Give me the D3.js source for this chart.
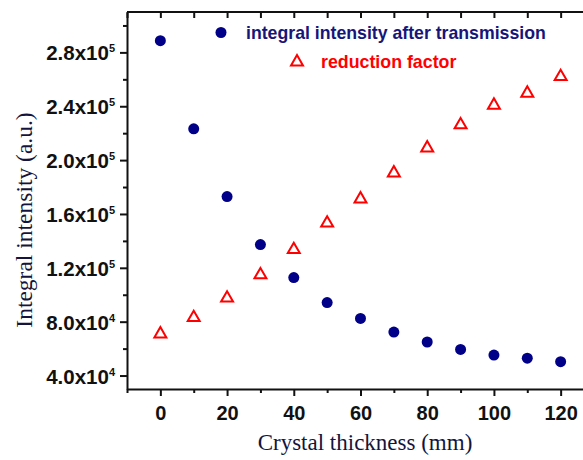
<!DOCTYPE html>
<html>
<head>
<meta charset="utf-8">
<script src="https://cdn.jsdelivr.net/npm/d3@7"></script>
<style>
  body { margin: 0; background: #fff; }
  svg { display: block; }
</style>
</head>
<body>
<div id="chart"></div>
<script>
// crystal thickness (mm)
const thickness = [0, 10, 20, 30, 40, 50, 60, 70, 80, 90, 100, 110, 120];
// integral intensity after transmission (a.u.)
const intensity = [288700, 223200, 172900, 137300, 112800, 94200, 82400, 72300, 64900, 59400, 55200, 52900, 50300];
// reduction factor (plotted on same axis)
const reduction = [70900, 83000, 97500, 114800, 133500, 153200, 171100, 190400, 209000, 226200, 240800, 249700, 262000];

const yMajor = [40000, 80000, 120000, 160000, 200000, 240000, 280000];
const yMinor = [60000, 100000, 140000, 180000, 220000, 260000, 300000];
const xMajor = [0, 20, 40, 60, 80, 100, 120];
const xMinor = [-10, 10, 30, 50, 70, 90, 110, 130];

const W = 583, H = 460;
const margin = { top: 12, left: 127, bottom: 389 };

const svg = d3.select("#chart").append("svg")
    .attr("width", W)
    .attr("height", H);

const x = d3.scaleLinear().domain([-10, 130]).range([margin.left, margin.left + 467]);
const y = d3.scaleLinear().domain([30000, 310000]).range([margin.bottom, margin.top]);

// top frame line
svg.append("line")
    .attr("x1", margin.left).attr("x2", W + 5)
    .attr("y1", margin.top).attr("y2", margin.top)
    .attr("stroke", "#111").attr("stroke-width", 2);

// bottom axis
const xAxis = svg.append("g")
    .attr("transform", "translate(0," + margin.bottom + ")")
    .call(d3.axisBottom(x).tickValues(xMajor).tickSize(7).tickSizeOuter(0).tickFormat(d3.format("d")));
svg.append("g")
    .attr("transform", "translate(0," + margin.bottom + ")")
    .call(d3.axisBottom(x).tickValues(xMinor).tickSize(4).tickSizeOuter(0).tickFormat(""))
    .select(".domain").remove();

xAxis.selectAll("text")
    .attr("dy", null)
    .attr("y", 31)
    .style("font-family", "'Liberation Sans', Arial, sans-serif")
    .style("font-weight", "bold")
    .style("font-size", "20px")
    .attr("fill", "#111");

// top ticks (inward)
svg.append("g")
    .attr("transform", "translate(0," + margin.top + ")")
    .call(d3.axisTop(x).tickValues(xMajor.concat(xMinor)).tickSize(-6).tickSizeOuter(0).tickFormat(""))
    .select(".domain").remove();

// left axis
svg.append("g")
    .attr("transform", "translate(" + margin.left + ",0)")
    .call(d3.axisLeft(y).tickValues(yMajor).tickSize(7).tickSizeOuter(0).tickFormat(""));
svg.append("g")
    .attr("transform", "translate(" + margin.left + ",0)")
    .call(d3.axisLeft(y).tickValues(yMinor).tickSize(4).tickSizeOuter(0).tickFormat(""))
    .select(".domain").remove();

svg.selectAll(".domain").attr("stroke", "#111").attr("stroke-width", 2);
svg.selectAll(".tick line").attr("stroke", "#111").attr("stroke-width", 2);

// y tick labels like 2.8x10^5
yMajor.forEach(v => {
    const exp = Math.floor(Math.log10(v));
    const mant = (v / Math.pow(10, exp)).toFixed(1);
    const t = svg.append("text")
        .attr("x", 115)
        .attr("y", y(v) + 8)
        .attr("text-anchor", "end")
        .attr("fill", "#111")
        .style("font-family", "'Liberation Sans', Arial, sans-serif")
        .style("font-weight", "bold")
        .style("font-size", "20.5px");
    t.append("tspan").text(mant + "x10");
    t.append("tspan")
        .attr("dy", -8)
        .style("font-size", "11px")
        .text(exp);
});

// axis titles
svg.append("text")
    .attr("x", 365)
    .attr("y", 450)
    .attr("text-anchor", "middle")
    .attr("fill", "#14143c")
    .style("font-family", "'Liberation Serif', 'Times New Roman', serif")
    .style("font-size", "23px")
    .text("Crystal thickness (mm)");

svg.append("text")
    .attr("transform", "translate(32,220) rotate(-90)")
    .attr("text-anchor", "middle")
    .attr("fill", "#14143c")
    .style("font-family", "'Liberation Serif', 'Times New Roman', serif")
    .style("font-size", "23.5px")
    .text("Integral intensity (a.u.)");

const tri = d3.symbol().type(d3.symbolTriangle).size(62);

// data: intensity dots
svg.append("g").selectAll("circle")
    .data(thickness)
    .join("circle")
    .attr("cx", d => x(d))
    .attr("cy", (d, i) => y(intensity[i]))
    .attr("r", 5.5)
    .attr("fill", "#000088");

// data: reduction factor triangles
svg.append("g").selectAll("path")
    .data(thickness)
    .join("path")
    .attr("d", tri)
    .attr("transform", (d, i) => "translate(" + x(d) + "," + y(reduction[i]) + ")")
    .attr("fill", "none")
    .attr("stroke", "#ff0000")
    .attr("stroke-width", 2);

// legend
const legend = svg.append("g");
legend.append("circle")
    .attr("cx", 221).attr("cy", 32.5).attr("r", 5.5)
    .attr("fill", "#000088");
legend.append("text")
    .attr("x", 246).attr("y", 39)
    .attr("fill", "#16167a")
    .style("font-family", "'Liberation Sans', Arial, sans-serif")
    .style("font-weight", "bold")
    .style("font-size", "17.7px")
    .text("integral intensity after transmission");
legend.append("path")
    .attr("d", tri)
    .attr("transform", "translate(297,62)")
    .attr("fill", "none")
    .attr("stroke", "#ff0000")
    .attr("stroke-width", 2);
legend.append("text")
    .attr("x", 321).attr("y", 68)
    .attr("fill", "#ff0000")
    .style("font-family", "'Liberation Sans', Arial, sans-serif")
    .style("font-weight", "bold")
    .style("font-size", "17.8px")
    .text("reduction factor");
</script>
</body>
</html>
